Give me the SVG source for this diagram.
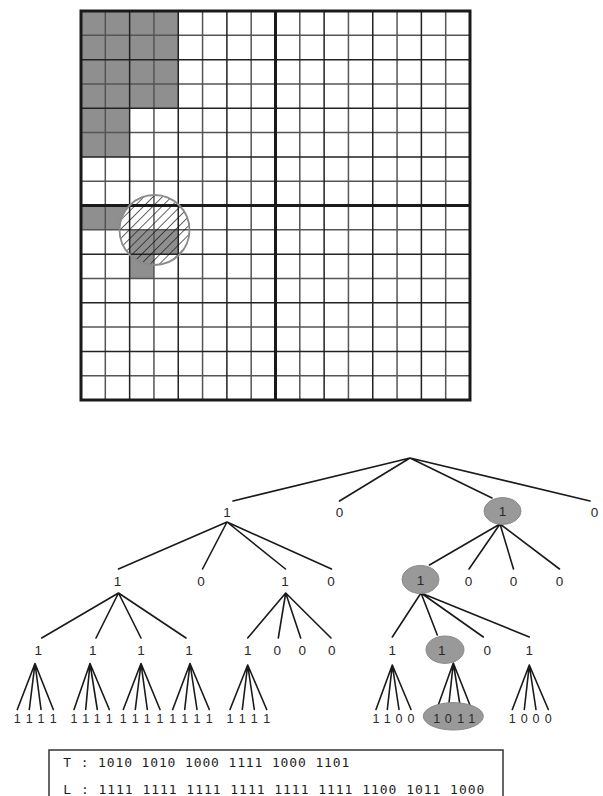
<svg xmlns="http://www.w3.org/2000/svg" width="603" height="796" viewBox="0 0 603 796">
<style>
.sh{fill:#8f8f8f}
.gd{stroke:#222;stroke-width:1.5;fill:none}
.gl{stroke:#555;stroke-width:1.5;fill:none}
.gt{stroke:#1a1a1a;stroke-width:3;fill:none}
.e{stroke:#1a1a1a;stroke-width:1.6;fill:none;stroke-linecap:round}
.t{font-family:"Liberation Sans",Arial,sans-serif;font-size:13.5px;fill:#2a2a2a;text-anchor:middle}
.lf{font-family:"Liberation Sans",Arial,sans-serif;font-size:12.5px;fill:#2a2a2a;text-anchor:middle}
.el{fill:#999;stroke:#8a8a8a;stroke-width:1}
.mono{font-family:"DejaVu Sans Mono","Liberation Mono",monospace;font-size:13px;fill:#1e1e1e}
</style>
<defs>
<pattern id="hatch" patternUnits="userSpaceOnUse" width="6.5" height="6.5" patternTransform="rotate(45)">
<line x1="0" y1="0" x2="0" y2="6.5" stroke="#111" stroke-width="1.3"/>
</pattern>
<clipPath id="cc"><circle cx="154.5" cy="230" r="35"/></clipPath>
</defs>
<rect width="603" height="796" fill="#fff"/>
<g id="grid">
<rect class="sh" x="81" y="11" width="97.25" height="97.25"/>
<rect class="sh" x="81" y="108.25" width="48.63" height="48.63"/>
<rect class="sh" x="81" y="205.5" width="48.63" height="24.31"/>
<circle cx="154.5" cy="230" r="35" fill="#fff"/>
<rect class="sh" x="129.63" y="229.81" width="48.62" height="24.32"/>
<rect class="sh" x="129.63" y="254.13" width="24.31" height="24.31"/>
<path class="gl" d="M105.31 11V400M153.94 11V400M202.56 11V400M251.19 11V400M299.81 11V400M348.44 11V400M397.06 11V400M445.69 11V400M81 35.31H470M81 83.94H470M81 132.56H470M81 181.19H470M81 229.81H470M81 278.44H470M81 327.06H470M81 375.69H470"/>
<path class="gd" d="M129.63 11V400M178.25 11V400M226.88 11V400M324.13 11V400M372.75 11V400M421.38 11V400M81 59.63H470M81 108.25H470M81 156.88H470M81 254.13H470M81 302.75H470M81 351.38H470"/>
<path class="gt" d="M275.5 11V400M81 205.5H470"/>
<rect class="gt" x="81" y="11" width="389" height="389"/>
<rect x="110" y="185" width="90" height="90" fill="url(#hatch)" clip-path="url(#cc)"/>
<circle cx="154.5" cy="230" r="35" fill="none" stroke="#8a8a8a" stroke-width="1.8"/>
</g>
<g id="connectors">
<path class="e" d="M410 458L233 501M410 458L339.5 501M410 458L492 498M410 458L590 501"/>
<path class="e" d="M227 522L118.5 569M227 522L202.5 569M227 522L285.5 569M227 522L331.5 569"/>
<path class="e" d="M500 524L429.5 565M500 524L469 569M500 524L513.5 569M500 524L559.5 569"/>
<path class="e" d="M118.5 593L41.7 638M118.5 593L96 638M118.5 593L141 638M118.5 593L186 638"/>
<path class="e" d="M285.7 593L247.7 638M285.7 593L278.3 638M285.7 593L300.7 638M285.7 593L331 638"/>
<path class="e" d="M421 593L392.3 637M421 593L437.3 635M421 593L483.3 637M421 593L529.3 637"/>
<path class="e" d="M35 663.5L17.3 709.5M35 663.5L29.3 709.5M35 663.5L41 709.5M35 663.5L53.3 709.5"/>
<path class="e" d="M90 663.5L74 709.5M90 663.5L85.7 709.5M90 663.5L97.3 709.5M90 663.5L109.3 709.5"/>
<path class="e" d="M141 663.5L123.3 709.5M141 663.5L135.3 709.5M141 663.5L147.3 709.5M141 663.5L160 709.5"/>
<path class="e" d="M190 663.5L172.7 709.5M190 663.5L184.7 709.5M190 663.5L197 709.5M190 663.5L209.3 709.5"/>
<path class="e" d="M247.7 665L230 709.5M247.7 665L242.3 709.5M247.7 665L254.3 709.5M247.7 665L266.7 709.5"/>
<path class="e" d="M392.3 665L376 709.5M392.3 665L387.3 709.5M392.3 665L399 709.5M392.3 665L411 709.5"/>
<path class="e" d="M453.3 663L436.7 709.5M453.3 663L448.3 709.5M453.3 663L460.7 709.5M453.3 663L471.7 709.5"/>
<path class="e" d="M529.3 665L512.3 709.5M529.3 665L524.3 709.5M529.3 665L536 709.5M529.3 665L548.3 709.5"/>
</g>
<g id="n-l1-a"><text class="t" x="227" y="516.5">1</text></g>
<g id="n-l1-b"><text class="t" x="339.5" y="516.5">0</text></g>
<g id="n-l1-c"><ellipse class="el" cx="502.5" cy="511" rx="18.5" ry="13.5"/><text class="t" x="502.5" y="516">1</text></g>
<g id="n-l1-d"><text class="t" x="594.5" y="516.5">0</text></g>
<g id="n-l2-a"><text class="t" x="117.5" y="585.5">1</text></g>
<g id="n-l2-b"><text class="t" x="201" y="585.5">0</text></g>
<g id="n-l2-c"><text class="t" x="285" y="585.5">1</text></g>
<g id="n-l2-d"><text class="t" x="331" y="585.5">0</text></g>
<g id="n-l2-e"><ellipse class="el" cx="420.5" cy="579.5" rx="18.5" ry="14"/><text class="t" x="420.5" y="584.5">1</text></g>
<g id="n-l2-f"><text class="t" x="468.5" y="585.5">0</text></g>
<g id="n-l2-g"><text class="t" x="513.5" y="585.5">0</text></g>
<g id="n-l2-h"><text class="t" x="559.5" y="585.5">0</text></g>
<g id="n-l3-1"><text class="t" x="38.3" y="655">1</text></g>
<g id="n-l3-2"><text class="t" x="92.7" y="655">1</text></g>
<g id="n-l3-3"><text class="t" x="141" y="655">1</text></g>
<g id="n-l3-4"><text class="t" x="189" y="655">1</text></g>
<g id="n-l3-5"><text class="t" x="247.7" y="655">1</text></g>
<g id="n-l3-6"><text class="t" x="277.3" y="655">0</text></g>
<g id="n-l3-7"><text class="t" x="302.3" y="655">0</text></g>
<g id="n-l3-8"><text class="t" x="331.7" y="655">0</text></g>
<g id="n-l3-9"><text class="t" x="392.3" y="655">1</text></g>
<g id="n-l3-10"><ellipse class="el" cx="445" cy="649.7" rx="19" ry="13.7"/><text class="t" x="441.7" y="655">1</text></g>
<g id="n-l3-11"><text class="t" x="487.3" y="655">0</text></g>
<g id="n-l3-12"><text class="t" x="529.3" y="655">1</text></g>
<g id="leaves-1"><text class="lf" x="17.3" y="722.5">1</text><text class="lf" x="29.3" y="722.5">1</text><text class="lf" x="41" y="722.5">1</text><text class="lf" x="53.3" y="722.5">1</text></g>
<g id="leaves-2"><text class="lf" x="74" y="722.5">1</text><text class="lf" x="85.7" y="722.5">1</text><text class="lf" x="97.3" y="722.5">1</text><text class="lf" x="109.3" y="722.5">1</text></g>
<g id="leaves-3"><text class="lf" x="123.3" y="722.5">1</text><text class="lf" x="135.3" y="722.5">1</text><text class="lf" x="147.3" y="722.5">1</text><text class="lf" x="160" y="722.5">1</text></g>
<g id="leaves-4"><text class="lf" x="172.7" y="722.5">1</text><text class="lf" x="184.7" y="722.5">1</text><text class="lf" x="197" y="722.5">1</text><text class="lf" x="209.3" y="722.5">1</text></g>
<g id="leaves-5"><text class="lf" x="230" y="722.5">1</text><text class="lf" x="242.3" y="722.5">1</text><text class="lf" x="254.3" y="722.5">1</text><text class="lf" x="266.7" y="722.5">1</text></g>
<g id="leaves-6"><text class="lf" x="376" y="722.5">1</text><text class="lf" x="387.3" y="722.5">1</text><text class="lf" x="399" y="722.5">0</text><text class="lf" x="411" y="722.5">0</text></g>
<g id="leaves-7"><ellipse class="el" cx="453.3" cy="716.3" rx="30" ry="13.7"/><text class="lf" x="436.7" y="722.5">1</text><text class="lf" x="448.3" y="722.5">0</text><text class="lf" x="460.7" y="722.5">1</text><text class="lf" x="471.7" y="722.5">1</text></g>
<g id="leaves-8"><text class="lf" x="512.3" y="722.5">1</text><text class="lf" x="524.3" y="722.5">0</text><text class="lf" x="536" y="722.5">0</text><text class="lf" x="548.3" y="722.5">0</text></g>
<g id="codes">
<rect x="49" y="750" width="454" height="60" fill="none" stroke="#333" stroke-width="1.5"/>
<text class="mono" x="63.3" y="766.7" textLength="286" lengthAdjust="spacing">T : 1010 1010 1000 1111 1000 1101</text>
<text class="mono" x="63.3" y="794.3" textLength="421" lengthAdjust="spacing">L : 1111 1111 1111 1111 1111 1111 1100 1011 1000</text>
</g>
</svg>
